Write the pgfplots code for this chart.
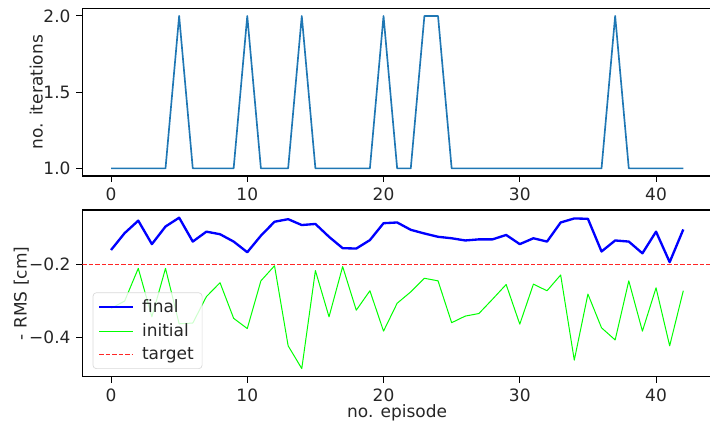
\documentclass[border=0pt]{standalone}
\usepackage{fontspec}
\setmainfont{DejaVu Sans}
\usepackage{pgfplots}
\pgfplotsset{compat=1.18}

\definecolor{mplblue}{HTML}{1F77B4}

% final (blue) and initial (green) RMS per episode
\pgfplotstableread{
ep final initial
0 -0.161 -0.320
1 -0.115 -0.300
2 -0.081 -0.211
3 -0.145 -0.343
4 -0.097 -0.211
5 -0.073 -0.362
6 -0.138 -0.360
7 -0.111 -0.288
8 -0.118 -0.250
9 -0.138 -0.347
10 -0.167 -0.375
11 -0.122 -0.245
12 -0.084 -0.204
13 -0.077 -0.422
14 -0.093 -0.484
15 -0.090 -0.217
16 -0.125 -0.343
17 -0.156 -0.206
18 -0.157 -0.325
19 -0.134 -0.272
20 -0.088 -0.382
21 -0.086 -0.306
22 -0.106 -0.275
23 -0.116 -0.238
24 -0.125 -0.245
25 -0.129 -0.359
26 -0.135 -0.341
27 -0.132 -0.334
28 -0.132 -0.295
29 -0.120 -0.255
30 -0.145 -0.363
31 -0.129 -0.254
32 -0.138 -0.272
33 -0.086 -0.229
34 -0.075 -0.461
35 -0.076 -0.281
36 -0.165 -0.373
37 -0.135 -0.406
38 -0.138 -0.245
39 -0.170 -0.382
40 -0.111 -0.264
41 -0.194 -0.422
42 -0.105 -0.272
}\rmsdata

\pgfplotsset{
  every axis/.append style={
    scale only axis, width=377.7pt,
    xmin=-2.1, xmax=44.1, xtick={0,10,20,30,40},
    tick align=outside, tick pos=left, major tick length=3.6pt,
    axis line style={line width=0.9pt},
    tick style={black, line width=0.6pt},
    ticklabel style={font=\fontsize{10.2}{12}\selectfont, text=black!85},
    label style={font=\fontsize{10.2}{12}\selectfont, text=black!85},
    /pgf/number format/assume math mode=true,
  },
}

\begin{document}
\begin{tikzpicture}
\useasboundingbox (0,0) rectangle (426pt,253.8pt);

\begin{axis}[
  at={(49.44pt,148.2pt)}, anchor=south west, height=100.6pt,
  ymin=0.95, ymax=2.05, ytick={1,1.5,2}, yticklabels={1.0,1.5,2.0},
  ylabel={no. iterations}, ylabel style={at={(rel axis cs:-0.0535,0.5)}, anchor=south},
]
\addplot[mplblue, line width=1pt, line join=round] coordinates {
(0,1)(1,1)(2,1)(3,1)(4,1)(5,2)(6,1)(7,1)(8,1)(9,1)(10,2)(11,1)(12,1)(13,1)(14,2)
(15,1)(16,1)(17,1)(18,1)(19,1)(20,2)(21,1)(22,1)(23,2)(24,2)(25,1)(26,1)(27,1)(28,1)
(29,1)(30,1)(31,1)(32,1)(33,1)(34,1)(35,1)(36,1)(37,2)(38,1)(39,1)(40,1)(41,1)(42,1)};
\end{axis}

\begin{axis}[
  at={(49.44pt,27.8pt)}, anchor=south west, height=100pt,
  ymin=-0.506, ymax=-0.052, ytick={-0.4,-0.2}, yticklabels={−0.4,−0.2},
  xlabel={no. episode}, ylabel={- RMS [cm]},
  xlabel style={yshift=5pt}, ylabel style={at={(rel axis cs:-0.0758,0.5)}, anchor=south},
  legend style={at={(rel axis cs:0.0164,0.046)}, anchor=south west,
    draw=black!15, rounded corners=2pt, fill=white, fill opacity=0.8, text opacity=1,
    font=\fontsize{10.2}{12}\selectfont, text=black!85, row sep=1.2pt,
    inner xsep=3pt, inner ysep=2pt},
  legend cell align=left,
  legend image code/.code={\draw[#1] (0pt,0pt) -- (20pt,0pt);},
]
\addplot[blue, line width=1.4pt, line join=round] table[x=ep, y=final] {\rmsdata};
\addlegendentry{\hspace{3pt}final}
\addplot[green, line width=0.6pt, line join=round] table[x=ep, y=initial] {\rmsdata};
\addlegendentry{\hspace{3pt}initial\hspace{4pt}}
\addplot[red!85, line width=0.7pt, dash pattern=on 2.6pt off 1.3pt, domain=-2.1:44.1] coordinates {(-2.1,-0.2)(44.1,-0.2)};
\addlegendentry{\hspace{3pt}target}
\end{axis}
\end{tikzpicture}
\end{document}
